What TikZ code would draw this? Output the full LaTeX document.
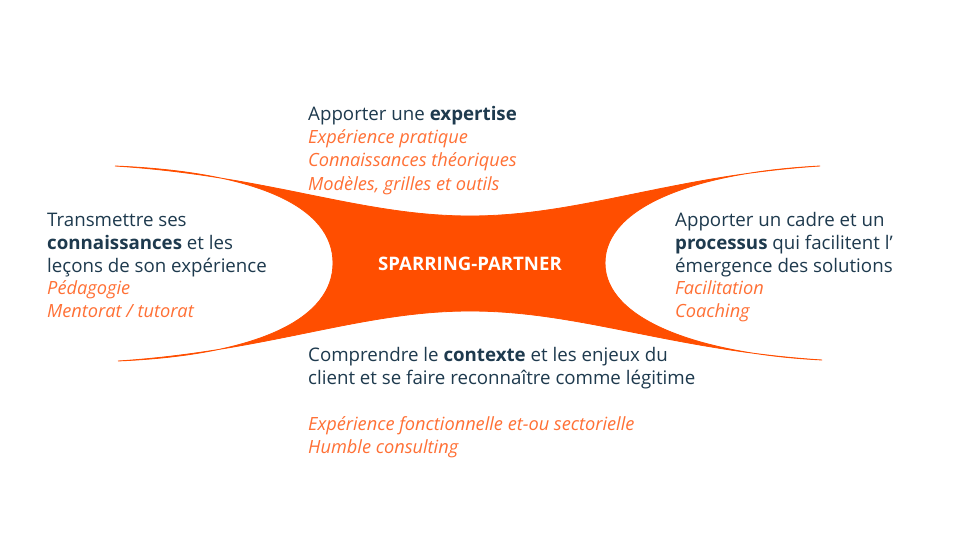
\documentclass[tikz,border=0pt]{standalone}
\usepackage{fontspec}
\setmainfont{Open Sans}
\definecolor{sporange}{HTML}{FF4E00}
\definecolor{sptext}{HTML}{FF7035}
\definecolor{spnavy}{HTML}{1E3A4E}
\begin{document}
\begin{tikzpicture}[x=1pt,y=-1pt,
  txt/.style={anchor=base west, inner sep=0pt, font=\fontsize{18.7}{22}\selectfont, text=spnavy},
  sub/.style={anchor=base west, inner sep=0pt, font=\fontsize{18.2}{22}\selectfont\itshape, text=sptext},
  centre/.style={inner sep=0pt, font=\fontsize{18.6}{22}\selectfont\bfseries, text=white}]
\useasboundingbox (0,0) rectangle (960,540);
\fill[white] (0,0) rectangle (960,540);
% shape
\coordinate (L1) at (115,166);
\coordinate (R1) at (820,166);
\coordinate (R2) at (822,360);
\coordinate (L2) at (118,361);
\filldraw[sporange, line width=0.8pt]
  (L1) .. controls (270,176) and (360,216) .. (470,216)
       .. controls (580,216) and (670,176) .. (R1)
       .. controls (700,172) and (605,205) .. (605,263)
       .. controls (605,320) and (700,354) .. (R2)
       .. controls (670,350) and (580,311) .. (470,311)
       .. controls (360,311) and (270,351) .. (L2)
       .. controls (260,355) and (333,318) .. (333,263)
       .. controls (333,208) and (260,172) .. (L1) -- cycle;
\node[centre] (c) at (470,264) {SPARRING-PARTNER};
% top block
\node[txt] (t1) at (308,121) {Apporter une \textbf{expertise}};
\node[sub] (t2) at (308,144) {Expérience pratique};
\node[sub] (t3) at (308,167) {Connaissances théoriques};
\node[sub] (t4) at (308,190) {Modèles, grilles et outils};
% left block
\node[txt] (l1) at (47,226) {Transmettre ses};
\node[txt] (l2) at (47,249) {\textbf{connaissances} et les};
\node[txt] (l3) at (47,272) {leçons de son expérience};
\node[sub] (l4) at (47,294) {Pédagogie};
\node[sub] (l5) at (47,317) {Mentorat / tutorat};
% right block
\node[txt] (r1) at (675,226) {Apporter un cadre et un};
\node[txt] (r2) at (675,249) {\textbf{processus} qui facilitent l’};
\node[txt] (r3) at (675,272) {émergence des solutions};
\node[sub] (r4) at (675,294) {Facilitation};
\node[sub] (r5) at (675,317) {Coaching};
% bottom block
\node[txt] (b1) at (308,361) {Comprendre le \textbf{contexte} et les enjeux du};
\node[txt] (b2) at (308,384) {client et se faire reconnaître comme légitime};
\node[sub] (b3) at (308,430) {Expérience fonctionnelle et-ou sectorielle};
\node[sub] (b4) at (308,453) {Humble consulting};
\end{tikzpicture}
\end{document}
